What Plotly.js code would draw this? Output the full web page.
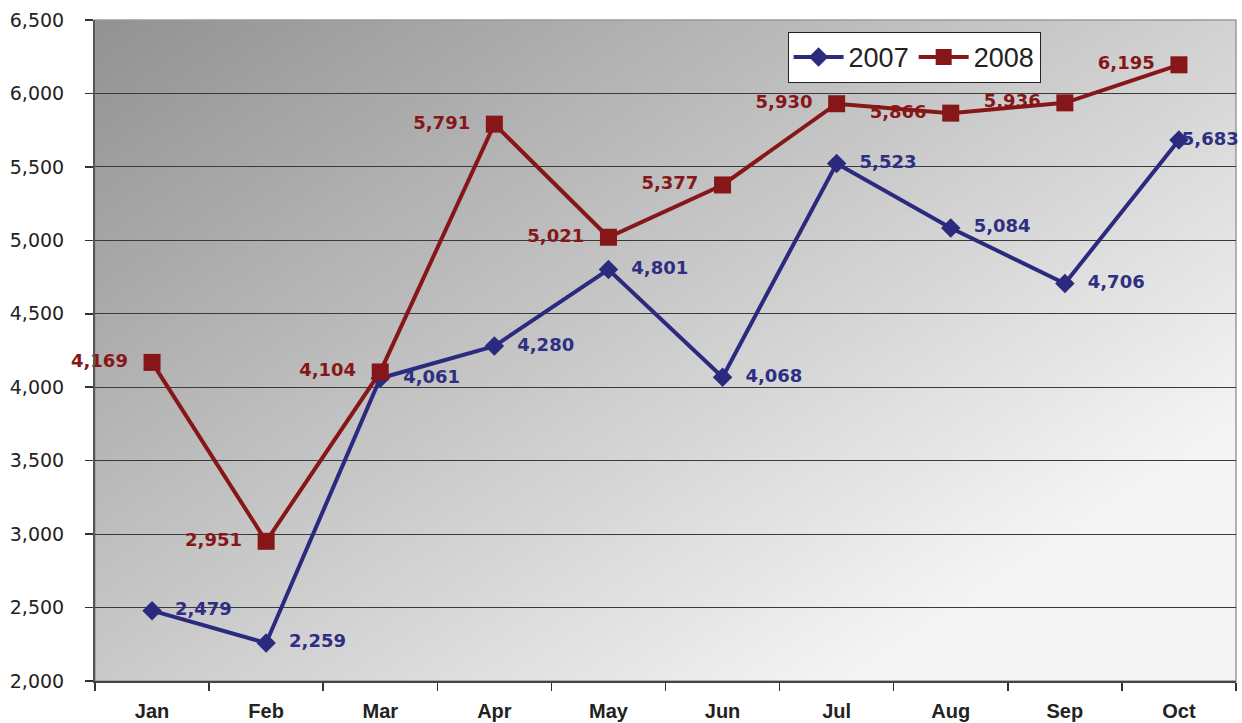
<!DOCTYPE html>
<html>
<head>
<meta charset="utf-8">
<script src="https://cdn.plot.ly/plotly-3.0.1.min.js"></script>
<style>
html,body{margin:0;padding:0;background:#fff;}
#chart{width:1242px;height:723px;}
</style>
</head>
<body>
<div id="chart"></div>
<script>
const months = ["Jan","Feb","Mar","Apr","May","Jun","Jul","Aug","Sep","Oct"];
const values2007 = [2479,2259,4061,4280,4801,4068,5523,5084,4706,5683];
const values2008 = [4169,2951,4104,5791,5021,5377,5930,5866,5936,6195];
const yTicks = [2000,2500,3000,3500,4000,4500,5000,5500,6000,6500];

// gradient background image for the plot area
function makeGradient(w,h){
  const c=document.createElement('canvas');
  c.width=w;c.height=h;
  const ctx=c.getContext('2d');
  const img=ctx.createImageData(w,h);
  for(let y=0;y<h;y++){
    for(let x=0;x<w;x++){
      let v=146+64*(x/w)+56*(y/h);
      if(v>245)v=245;
      const i=(y*w+x)*4;
      img.data[i]=v;img.data[i+1]=v;img.data[i+2]=v;img.data[i+3]=255;
    }
  }
  ctx.putImageData(img,0,0);
  return c.toDataURL('image/png');
}
const bg=makeGradient(571,331);

const fmt=v=>v.toLocaleString('en-US');
const NB='\u00a0';
const labelFont={family:'DejaVu Sans, sans-serif',size:18,weight:'bold'};
const last=values2007.length-1;

const t2007={
  x:months,y:values2007,name:'2007',type:'scatter',mode:'lines+markers+text',
  line:{color:'#2b2a7e',width:4},
  marker:{symbol:'diamond',size:15,color:'#2b2a7e'},
  text:values2007.map((v,i)=> (i===last ? NB.repeat(10) : NB+NB) + fmt(v)),
  textposition:values2007.map((v,i)=> i===last ? 'middle center' : 'middle right'),
  textfont:Object.assign({color:'#2e2f82'},labelFont),
  cliponaxis:false
};
const t2008={
  x:months,y:values2008,name:'2008',type:'scatter',mode:'lines+markers+text',
  line:{color:'#861618',width:4},
  marker:{symbol:'square',size:17,color:'#861618'},
  text:values2008.map(v=>fmt(v)+NB+NB),
  textposition:'middle left',
  textfont:Object.assign({color:'#861618'},labelFont),
  cliponaxis:false
};

const layout={
  width:1242,height:723,
  margin:{l:95,r:6,t:20,b:42},
  paper_bgcolor:'#ffffff',
  plot_bgcolor:'rgba(0,0,0,0)',
  showlegend:true,
  legend:{
    orientation:'h',x:0.607,y:0.982,xanchor:'left',yanchor:'top',
    bgcolor:'#ffffff',bordercolor:'#222',borderwidth:1,
    font:{family:'Liberation Sans, Arial, sans-serif',size:27,color:'#222'},
    tracegroupgap:0,itemwidth:50
  },
  xaxis:{
    type:'category',
    tickson:'boundaries',ticks:'outside',ticklen:8,tickcolor:'#333',tickwidth:1.5,
    showline:true,linecolor:'#444',linewidth:2,
    showgrid:false,zeroline:false,
    tickfont:{family:'Liberation Sans, Arial, sans-serif',size:20,weight:'bold',color:'#222'},
    ticklabelstandoff:11,
    range:[-0.5,9.5]
  },
  yaxis:{
    range:[2000,6500],
    tickvals:yTicks,ticktext:yTicks.map(fmt),
    ticks:'outside',ticklen:8,tickcolor:'#333',tickwidth:1.5,
    showline:true,linecolor:'#555',linewidth:2,
    showgrid:true,gridcolor:'#3a3a3a',gridwidth:1,
    zeroline:false,
    tickfont:{family:'DejaVu Sans, sans-serif',size:19,color:'#222'},
    ticklabelstandoff:17
  },
  shapes:[{
    type:'rect',xref:'paper',yref:'paper',x0:0,x1:1,y0:0,y1:1,
    line:{color:'#9a9a9a',width:1.5},layer:'below'
  }],
  images:[{
    source:bg,xref:'paper',yref:'paper',x:0,y:1,sizex:1,sizey:1,
    xanchor:'left',yanchor:'top',sizing:'stretch',layer:'below'
  }]
};

Plotly.newPlot('chart',[t2007,t2008],layout,{displayModeBar:false,staticPlot:true});
</script>
</body>
</html>
